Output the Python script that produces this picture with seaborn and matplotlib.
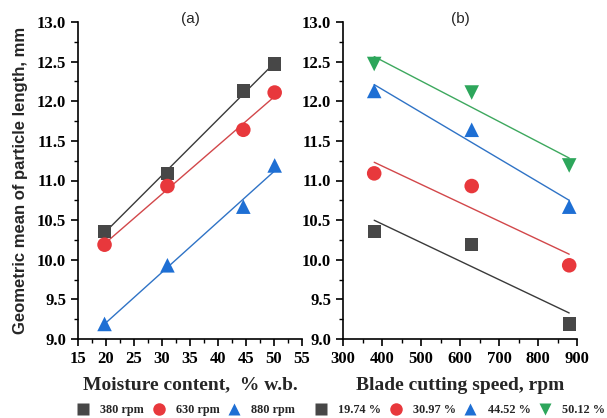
import matplotlib
matplotlib.use("Agg")
import matplotlib.pyplot as plt
import seaborn as sns
import numpy as np
import pandas as pd
from matplotlib.ticker import MultipleLocator
from matplotlib.lines import Line2D

sns.set_style("ticks")

moisture = [19.74, 30.97, 44.52, 50.12]
speeds = [380, 630, 880]
speed_labels = ["380 rpm", "630 rpm", "880 rpm"]
moist_labels = ["19.74 %", "30.97 %", "44.52 %", "50.12 %"]

gmpl_380 = [10.36, 11.09, 12.13, 12.47]
gmpl_630 = [10.19, 10.93, 11.64, 12.11]
gmpl_880 = [9.19, 9.93, 10.67, 11.19]

gmpl_a = [gmpl_380, gmpl_630, gmpl_880]
# panel b: same data grouped by moisture content
gmpl_b = [[gmpl_a[j][i] for j in range(3)] for i in range(4)]

mcolors = ["#474747", "#e8383c", "#1e6fd4", "#2da65b"]
lcolors = ["#3a3a3a", "#d2474a", "#2f73c6", "#3da85e"]
markers = ["s", "o", "^", "v"]

serif = "Liberation Serif"
sans = "Liberation Sans"

fig = plt.figure(figsize=(6.07, 4.18), dpi=100)
axa = fig.add_axes([78/607, 1-339/418, (302-78)/607, (339-22)/418])
axb = fig.add_axes([343/607, 1-339/418, (577-343)/607, (339-22)/418])

for i in range(3):
    df = pd.DataFrame({"x": moisture, "y": gmpl_a[i]})
    sns.regplot(data=df, x="x", y="y", ax=axa, ci=None, truncate=True,
                scatter=False, line_kws=dict(color=lcolors[i], lw=1.0))
    sns.scatterplot(data=df, x="x", y="y", ax=axa, marker=markers[i],
                    color=mcolors[i], s=110 if markers[i] != "s" else 90,
                    edgecolor="none", zorder=3)

for i in range(4):
    df = pd.DataFrame({"x": speeds, "y": gmpl_b[i]})
    sns.regplot(data=df, x="x", y="y", ax=axb, ci=None, truncate=True,
                scatter=False, line_kws=dict(color=lcolors[i], lw=1.0))
    sns.scatterplot(data=df, x="x", y="y", ax=axb, marker=markers[i],
                    color=mcolors[i], s=110 if markers[i] != "s" else 90,
                    edgecolor="none", zorder=3)

for ax, xlim, xmaj, xmin in [(axa, (15, 55), 5, 2.5), (axb, (300, 900), 100, 50)]:
    ax.set_xlim(*xlim)
    ax.set_ylim(9.0, 13.0)
    ax.xaxis.set_major_locator(MultipleLocator(xmaj))
    ax.xaxis.set_minor_locator(MultipleLocator(xmin))
    ax.yaxis.set_major_locator(MultipleLocator(0.5))
    ax.yaxis.set_minor_locator(MultipleLocator(0.25))
    ax.yaxis.set_major_formatter(matplotlib.ticker.FormatStrFormatter("%.1f"))
    for s in ["top", "right"]:
        ax.spines[s].set_visible(False)
    for s in ["left", "bottom"]:
        ax.spines[s].set_linewidth(1.2)
        ax.spines[s].set_color("black")
    ax.tick_params(which="major", direction="out", length=5, width=1.2, colors="black")
    ax.tick_params(which="minor", direction="out", length=3, width=1.0, colors="black")
    for lab in ax.get_xticklabels() + ax.get_yticklabels():
        lab.set_fontfamily(serif)
        lab.set_fontweight("bold")
        lab.set_fontsize(12)
    ax.set_ylabel("")

axa.set_xlabel("Moisture content,  % w.b.", fontfamily=serif, fontweight="bold", fontsize=14, labelpad=7)
axb.set_xlabel("Blade cutting speed, rpm", fontfamily=serif, fontweight="bold", fontsize=14, labelpad=7)
axa.set_ylabel("Geometric mean of particle length, mm", fontfamily=sans, fontweight="bold", fontsize=12, labelpad=6)
axa.text(0.5, 1.01, "(a)", transform=axa.transAxes, ha="center", va="center", fontfamily=sans, fontsize=11)
axb.text(0.5, 1.01, "(b)", transform=axb.transAxes, ha="center", va="center", fontfamily=sans, fontsize=11)

def make_handles(n, labels):
    return [Line2D([], [], marker=markers[i], color=mcolors[i], linestyle="none",
                   markersize=9, markeredgecolor="none", label=labels[i]) for i in range(n)]

legprops = dict(family=serif, weight="bold", size=8.8)
fig.legend(handles=make_handles(3, speed_labels), loc="center", bbox_to_anchor=(186/607, 1-410/418),
           ncol=3, frameon=False, prop=legprops, handlelength=1.0, handletextpad=0.9,
           columnspacing=0.7, borderaxespad=0, borderpad=0)
fig.legend(handles=make_handles(4, moist_labels), loc="center", bbox_to_anchor=(460/607, 1-410/418),
           ncol=4, frameon=False, prop=legprops, handlelength=1.0, handletextpad=0.9,
           columnspacing=0.7, borderaxespad=0, borderpad=0)

fig.savefig("out.png", dpi=100)
